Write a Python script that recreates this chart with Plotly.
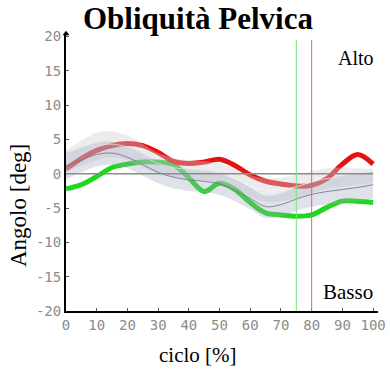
import plotly.graph_objects as go

# Gait cycle samples (percent of stride)
cycle = [0, 5, 10, 15, 20, 25, 30, 35, 40, 45, 50, 55, 60, 65, 70, 75, 80, 85, 90, 95, 100]

# Pelvic obliquity, left (red) and right (green) sides [deg]
red_side = [0.7, 2.2, 3.4, 4.1, 4.4, 4.1, 3.1, 1.8, 1.5, 1.7, 2.1, 1.2, -0.2, -1.1, -1.5, -1.8, -1.7, -0.7, 1.4, 2.8, 1.4]
green_side = [-2.2, -1.6, -0.4, 0.9, 1.4, 1.7, 1.7, 1.3, -0.6, -2.6, -1.4, -2.3, -4.2, -5.7, -6.0, -6.2, -6.0, -4.9, -4.0, -4.0, -4.2]

# Normative reference bands: mean and half-width
ref_dark_mean = [1.1, 2.0, 2.8, 3.0, 2.4, 1.3, 0.2, -0.5, -0.9, -1.1, -1.5, -2.4, -3.6, -4.8, -4.5, -3.7, -3.0, -2.6, -2.3, -2.0, -1.6]
ref_dark_sd = [1.9, 1.8, 1.7, 1.7, 1.6, 1.6, 1.6, 1.6, 1.6, 1.6, 1.6, 1.6, 1.6, 1.6, 1.7, 1.7, 1.8, 1.9, 2.0, 2.0, 2.0]
ref_light_mean = [1.8, 3.0, 4.0, 4.3, 3.8, 2.6, 1.5, 0.9, 0.6, 0.4, 0.1, -0.8, -1.8, -2.4, -2.3, -1.9, -1.2, -0.7, -0.5, -0.4, -0.3]
ref_light_sd = [1.6, 1.8, 2.0, 1.9, 1.8, 1.7, 1.5, 1.4, 1.4, 1.4, 1.4, 1.5, 1.6, 1.7, 1.7, 1.7, 1.6, 1.5, 1.4, 1.2, 1.0]

# Foot-off events [% cycle]
green_event = 75
red_event = 80

y_ticks = [20, 15, 10, 5, 0, -5, -10, -15, -20]
y_tick_text = ["20", "15", "10", "5", "0", "-5", "-10", "-15", "-20"]
x_ticks = [0, 10, 20, 30, 40, 50, 60, 70, 80, 90, 100]

fig = go.Figure()

# subject curves
fig.add_trace(go.Scatter(x=cycle, y=green_side, mode="lines", line=dict(color="rgb(30,215,30)", width=5, shape="spline", smoothing=1.0), hoverinfo="skip"))
fig.add_trace(go.Scatter(x=cycle, y=red_side, mode="lines", line=dict(color="rgb(230,18,18)", width=5, shape="spline", smoothing=1.0), hoverinfo="skip"))

# reference bands drawn over the curves, semi-transparent
def band(mean, sd, fill, line_color):
    up = [m + s for m, s in zip(mean, sd)]
    lo = [m - s for m, s in zip(mean, sd)]
    fig.add_trace(go.Scatter(x=cycle, y=up, mode="lines", line=dict(width=0, shape="spline"), hoverinfo="skip"))
    fig.add_trace(go.Scatter(x=cycle, y=lo, mode="lines", line=dict(width=0, shape="spline"), fill="tonexty", fillcolor=fill, hoverinfo="skip"))
    fig.add_trace(go.Scatter(x=cycle, y=mean, mode="lines", line=dict(color=line_color, width=1, shape="spline"), hoverinfo="skip"))

band(ref_light_mean, ref_light_sd, "rgba(205,205,210,0.38)", "rgba(245,245,245,0.8)")
band(ref_dark_mean, ref_dark_sd, "rgba(160,166,190,0.32)", "rgba(120,125,140,0.9)")

# zero reference
fig.add_shape(type="line", x0=0, x1=100, y0=0, y1=0, line=dict(color="rgb(140,140,140)", width=1.5))

# event markers
fig.add_shape(type="line", x0=green_event, x1=green_event, y0=-20, y1=19.5, line=dict(color="rgb(120,225,120)", width=1))
fig.add_shape(type="line", x0=red_event, x1=red_event, y0=-20, y1=19.5, line=dict(color="rgb(228,100,100)", width=1))

# axis arrow heads
fig.add_trace(go.Scatter(x=[0], y=[20.4], mode="markers", marker=dict(symbol="triangle-up", size=6, color="black"), cliponaxis=False, hoverinfo="skip"))
fig.add_trace(go.Scatter(x=[101.8], y=[-20], mode="markers", marker=dict(symbol="triangle-right", size=6, color="black"), cliponaxis=False, hoverinfo="skip"))

tick_font = dict(family="DejaVu Sans Mono", size=14, color="rgb(140,140,140)")
serif = "Liberation Serif"

fig.update_layout(
    width=390, height=372,
    margin=dict(l=66, r=12, t=33, b=61, autoexpand=False),
    paper_bgcolor="white", plot_bgcolor="white",
    showlegend=False,
    xaxis=dict(range=[0, 101.6], tickvals=x_ticks, ticktext=[str(v) for v in x_ticks],
               showgrid=False, zeroline=False, showline=True, linecolor="black", linewidth=2,
               ticks="inside", ticklen=3, tickcolor="rgb(90,90,90)", tickfont=tick_font, fixedrange=True,
               automargin=False),
    yaxis=dict(range=[-20, 20.5], tickvals=y_ticks, ticktext=y_tick_text,
               showgrid=False, zeroline=False, showline=True, linecolor="black", linewidth=2,
               ticks="inside", ticklen=3, tickcolor="rgb(90,90,90)", tickfont=tick_font, fixedrange=True,
               automargin=False),
    annotations=[
        dict(text="<b>Obliquità Pelvica</b>", xref="paper", yref="paper", x=(197.5 - 66) / 312, y=1.0, yshift=15,
             showarrow=False, font=dict(family=serif, size=31, color="black"), xanchor="center", yanchor="middle"),
        dict(text="Angolo [deg]", xref="paper", yref="paper", x=0, xshift=-48, y=(311 - 206) / 278,
             showarrow=False, textangle=-90, font=dict(family=serif, size=23, color="black"), xanchor="center", yanchor="middle"),
        dict(text="ciclo [%]", xref="paper", yref="paper", x=(198 - 66) / 312, y=0, yshift=-44,
             showarrow=False, font=dict(family=serif, size=21, color="black"), xanchor="center", yanchor="middle"),
        dict(text="Alto", x=94.3, y=16.8, showarrow=False, font=dict(family=serif, size=20, color="black"), xanchor="center", yanchor="middle"),
        dict(text="Basso", x=91.8, y=-17.3, showarrow=False, font=dict(family=serif, size=21, color="black"), xanchor="center", yanchor="middle"),
    ],
)

fig.write_html("out.html")
